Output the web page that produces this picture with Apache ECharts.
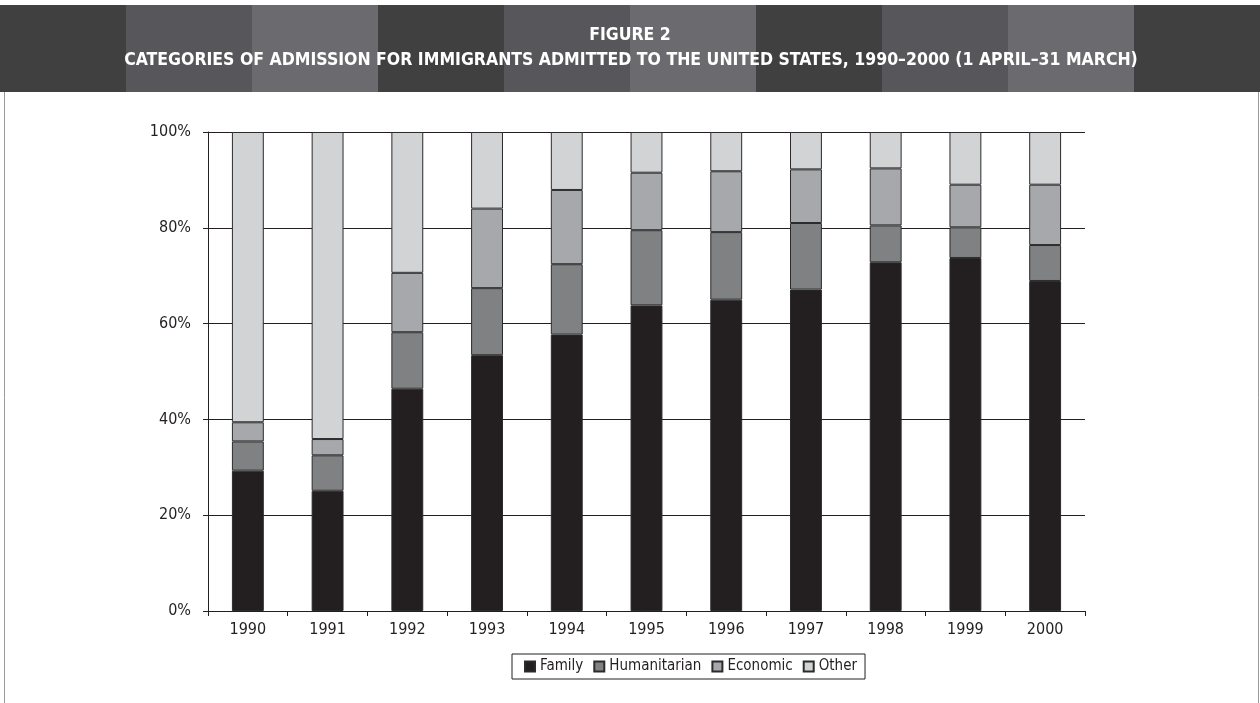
<!DOCTYPE html>
<html>
<head>
<meta charset="utf-8">
<script src="https://cdn.jsdelivr.net/npm/echarts@6/dist/echarts.min.js"></script>
<style>
html,body{margin:0;padding:0;background:#fff;}
#chart{width:1260px;height:703px;}
</style>
</head>
<body>
<div id="chart"></div>
<script>
const years = ['1990','1991','1992','1993','1994','1995','1996','1997','1998','1999','2000'];
const family = [29.3, 25.1, 46.4, 53.4, 57.7, 63.8, 65.0, 67.1, 72.8, 73.7, 68.9];
const humanitarian = [6.1, 7.4, 11.8, 14.0, 14.7, 15.7, 14.1, 13.9, 7.7, 6.4, 7.5];
const economic = [4.0, 3.4, 12.4, 16.6, 15.5, 12.0, 12.7, 11.2, 11.9, 8.9, 12.6];
const other = [60.6, 64.1, 29.4, 16.0, 12.1, 8.5, 8.2, 7.8, 7.6, 11.0, 11.0];
const yTicks = [0, 20, 40, 60, 80, 100];

const titleLine1 = 'FIGURE 2';
const titleLine2 = 'CATEGORIES OF ADMISSION FOR IMMIGRANTS ADMITTED TO THE UNITED STATES, 1990\u20132000 (1 APRIL\u201331 MARCH)';

const headerColors = ['#404040', '#57575b', '#6b6b6f'];
const blockW = 126;
const header = [];
for (let i = 0; i < 10; i++) {
  header.push({
    type: 'rect', z: 0,
    shape: { x: i * blockW, y: 5, width: (i === 9 ? 1260 - i * blockW : blockW), height: 87 },
    style: { fill: headerColors[i % 3] }
  });
}
header.push({ type: 'line', shape: { x1: 4.5, y1: 92, x2: 4.5, y2: 703 }, style: { stroke: '#9a9a9a', lineWidth: 1 } });
header.push({ type: 'line', shape: { x1: 1258.5, y1: 92, x2: 1258.5, y2: 703 }, style: { stroke: '#9a9a9a', lineWidth: 1 } });
header.push({ type: 'text', z: 5, x: 630, y: 35, style: { text: titleLine1, fill: '#ffffff', font: 'bold 17.5px "DejaVu Sans Condensed", "DejaVu Sans"', textAlign: 'center', textVerticalAlign: 'middle' } });
header.push({ type: 'text', z: 5, x: 631, y: 60, style: { text: titleLine2, fill: '#ffffff', font: 'bold 17.5px "DejaVu Sans Condensed", "DejaVu Sans"', textAlign: 'center', textVerticalAlign: 'middle' } });

const tickFont = '"Liberation Sans Narrow", "DejaVu Sans Condensed", sans-serif';
const border = { borderColor: '#2b2b2b', borderWidth: 1 };

function mk(name, data, color) {
  return {
    name: name, type: 'bar', stack: 'total', data: data, barWidth: '40%',
    itemStyle: Object.assign({ color: color }, border),
    emphasis: { disabled: true }
  };
}

const chart = echarts.init(document.getElementById('chart'));
chart.setOption({
  animation: false,
  backgroundColor: '#ffffff',
  graphic: header,
  grid: { left: 208, right: 175, top: 132, bottom: 92 },
  legend: {
    left: 512, top: 654,
    data: ['Family', 'Humanitarian', 'Economic', 'Other'],
    icon: 'rect',
    itemWidth: 10, itemHeight: 10, itemGap: 10,
    borderColor: '#231f20', borderWidth: 1, padding: [5, 8, 5, 12],
    textStyle: { fontFamily: tickFont, fontSize: 15, color: '#231f20', padding: [0, 0, 0, 0] }
  },
  xAxis: {
    type: 'category', data: years,
    axisLine: { lineStyle: { color: '#231f20', width: 1 } },
    axisTick: { show: true, length: 5, lineStyle: { color: '#231f20' } },
    axisLabel: { fontFamily: tickFont, fontSize: 16, color: '#231f20', margin: 11 }
  },
  yAxis: {
    type: 'value', min: 0, max: 100, interval: 20,
    axisLine: { show: true, lineStyle: { color: '#231f20', width: 1 } },
    axisTick: { show: true, length: 5, lineStyle: { color: '#231f20' } },
    splitLine: { lineStyle: { color: '#231f20', width: 1 } },
    axisLabel: { fontFamily: tickFont, fontSize: 16, color: '#231f20', margin: 17, formatter: function (v) { return yTicks.indexOf(v) >= 0 ? v + '%' : ''; } }
  },
  series: [
    mk('Family', family, '#231f20'),
    mk('Humanitarian', humanitarian, '#808183'),
    mk('Economic', economic, '#a7a8ab'),
    mk('Other', other, '#d1d3d4')
  ]
});
</script>
</body>
</html>
